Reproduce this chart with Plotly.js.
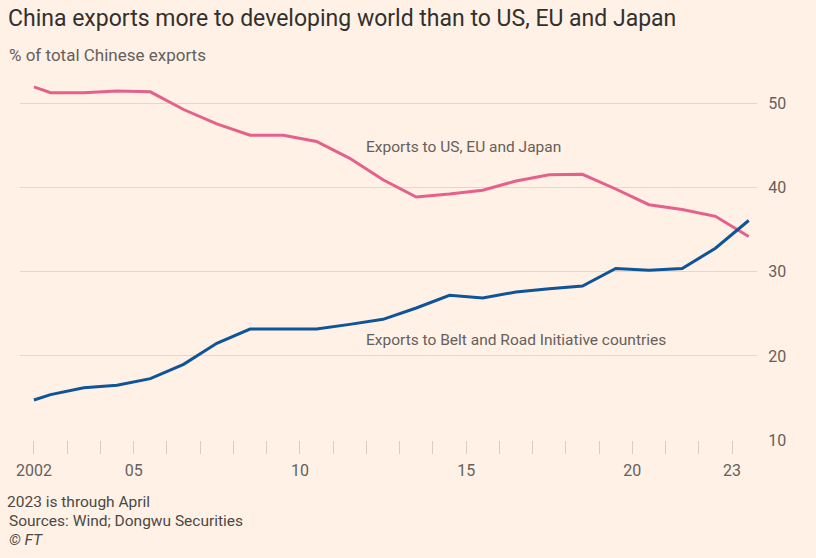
<!DOCTYPE html>
<html>
<head>
<meta charset="utf-8">
<script src="https://cdn.plot.ly/plotly-3.0.1.min.js"></script>
<style>
html,body{margin:0;padding:0;background:#fff1e5;}
#chart{width:816px;height:558px;}
</style>
</head>
<body>
<div id="chart"></div>
<script>
// x positions (years, mid-year points; first point at start of 2002)
var years = [2002, 2002.5, 2003.5, 2004.5, 2005.5, 2006.5, 2007.5, 2008.5, 2009.5, 2010.5,
             2011.5, 2012.5, 2013.5, 2014.5, 2015.5, 2016.5, 2017.5, 2018.5, 2019.5,
             2020.5, 2021.5, 2022.5, 2023.5];
// % of total Chinese exports
var usEuJapan = [52.0, 51.3, 51.3, 51.5, 51.4, 49.3, 47.6, 46.25, 46.25, 45.5,
                 43.5, 40.95, 38.9, 39.25, 39.7, 40.8, 41.55, 41.6, 39.85,
                 37.98, 37.4, 36.6, 34.2];
var beltRoad = [14.76, 15.4, 16.2, 16.5, 17.3, 19.0, 21.5, 23.2, 23.2, 23.2,
                23.75, 24.35, 25.7, 27.2, 26.9, 27.6, 28.0, 28.3, 30.4,
                30.2, 30.4, 32.8, 36.1];
var tickVals = [2002, 2005, 2010, 2015, 2020, 2023];
var tickText = ['2002', '05', '10', '15', '20', '23'];
var majorTickVals = [2005, 2010, 2015, 2020];
var yTicks = [10, 20, 30, 40, 50];

var FONT = 'Roboto, "Open Sans", sans-serif';
var GREY = '#66605c';
var xRange = [2001.58, 2023.75];

var traces = [
  {x: years, y: usEuJapan, type: 'scatter', mode: 'lines',
   line: {color: '#e6608c', width: 3}, hoverinfo: 'skip'},
  {x: years, y: beltRoad, type: 'scatter', mode: 'lines',
   line: {color: '#0f5499', width: 3}, hoverinfo: 'skip'}
];

var layout = {
  width: 816, height: 558,
  margin: {l: 20, r: 59, t: 70, b: 118},
  paper_bgcolor: '#fff1e5', plot_bgcolor: '#fff1e5',
  showlegend: false,
  font: {family: FONT, color: GREY, size: 15},
  xaxis: {
    range: xRange, tickvals: tickVals, ticktext: tickText,
    ticks: 'outside', ticklen: 13, tickcolor: '#d9cdc3', tickwidth: 1,
    ticklabelstandoff: 3,
    showgrid: false, zeroline: false, showline: false,
    tickfont: {family: FONT, size: 16, color: GREY},
    minor: {dtick: 1, tick0: 2002, ticks: 'outside', ticklen: 13, tickcolor: '#d9cdc3', tickwidth: 1, showgrid: false}
  },
  xaxis2: {
    range: xRange, overlaying: 'x', anchor: 'y', side: 'bottom',
    tickvals: majorTickVals, showticklabels: false,
    ticks: 'outside', ticklen: 19, tickcolor: '#d9cdc3', tickwidth: 1,
    showgrid: false, zeroline: false, showline: false
  },
  yaxis: {
    range: [10, 54], side: 'right', tickvals: yTicks,
    showgrid: true, gridcolor: '#e4d8ce', gridwidth: 1,
    zeroline: false, showline: false,
    ticks: 'outside', ticklen: 7, tickcolor: 'rgba(0,0,0,0)',
    tickfont: {family: FONT, size: 16, color: GREY}
  },
  annotations: [
    {xref: 'paper', yref: 'paper', x: -0.0195, y: 1.139, xanchor: 'left', yanchor: 'middle',
     text: 'China exports more to developing world than to US, EU and Japan', showarrow: false,
     font: {family: FONT, size: 23, color: '#33302e'}},
    {xref: 'paper', yref: 'paper', x: -0.0176, y: 1.04, xanchor: 'left', yanchor: 'middle',
     text: '% of total Chinese exports', showarrow: false,
     font: {family: FONT, size: 17, color: GREY}},
    {xref: 'x', yref: 'y', x: 2011.94, y: 44.9, xanchor: 'left', yanchor: 'middle',
     text: 'Exports to US, EU and Japan', showarrow: false,
     font: {family: FONT, size: 15.5, color: GREY}},
    {xref: 'x', yref: 'y', x: 2011.94, y: 21.9, xanchor: 'left', yanchor: 'middle',
     text: 'Exports to Belt and Road Initiative countries', showarrow: false,
     font: {family: FONT, size: 15.5, color: GREY}},
    {xref: 'paper', yref: 'paper', x: -0.0203, y: -0.167, xanchor: 'left', yanchor: 'middle',
     text: '2023 is through April', showarrow: false,
     font: {family: FONT, size: 15.5, color: '#4d4845'}},
    {xref: 'paper', yref: 'paper', x: -0.0176, y: -0.218, xanchor: 'left', yanchor: 'middle',
     text: 'Sources: Wind; Dongwu Securities', showarrow: false,
     font: {family: FONT, size: 15.5, color: '#4d4845'}},
    {xref: 'paper', yref: 'paper', x: -0.0176, y: -0.27, xanchor: 'left', yanchor: 'middle',
     text: '<i>© FT</i>', showarrow: false,
     font: {family: FONT, size: 15.5, color: '#4d4845'}}
  ]
};

Plotly.newPlot('chart', traces, layout, {displayModeBar: false, staticPlot: true});
</script>
</body>
</html>
